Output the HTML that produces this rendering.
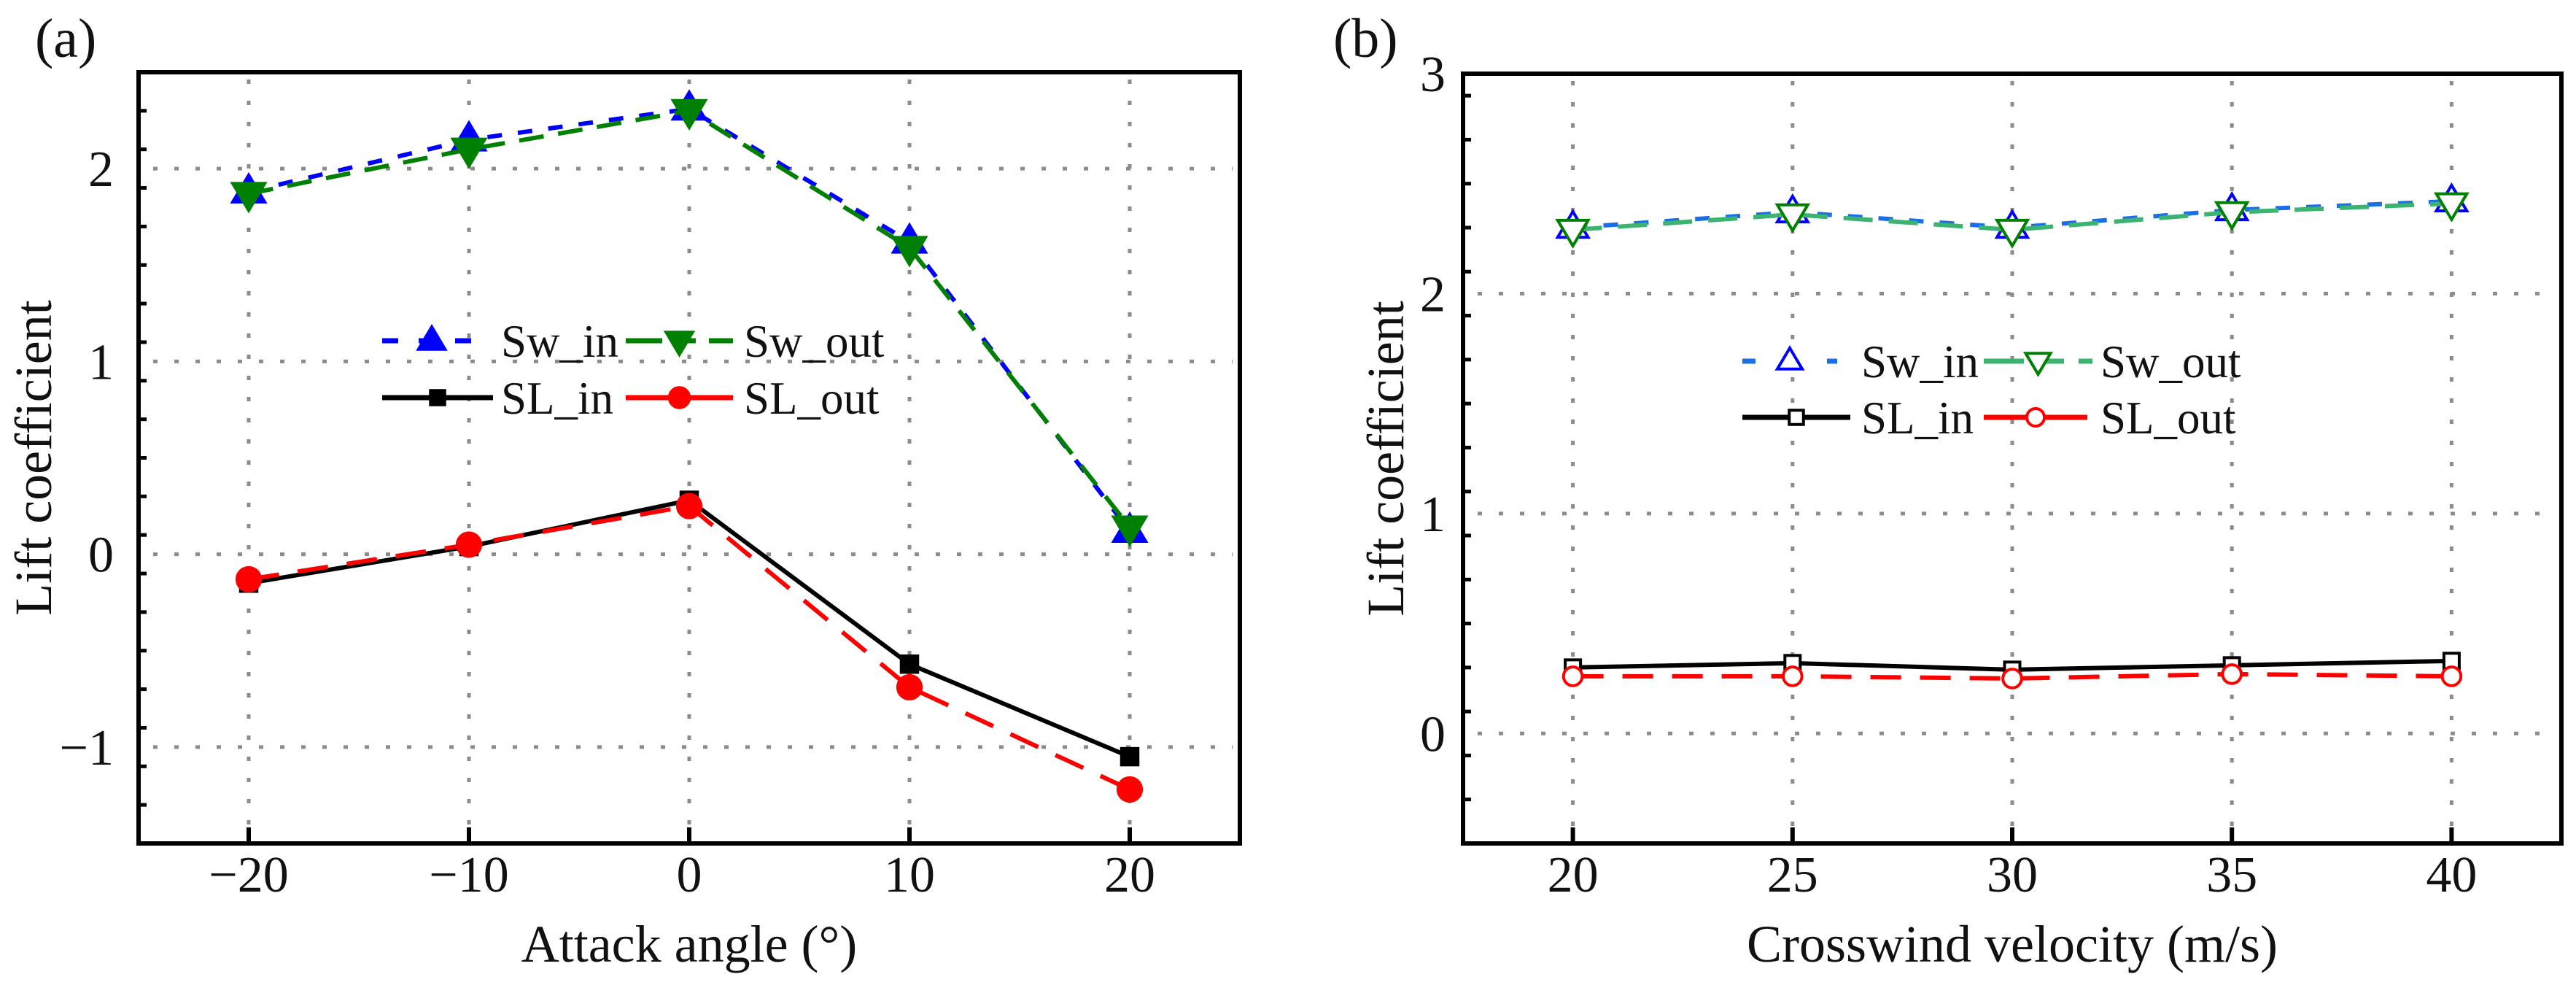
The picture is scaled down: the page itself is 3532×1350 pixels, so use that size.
<!DOCTYPE html>
<html><head><meta charset="utf-8">
<style>
html,body{margin:0;padding:0;background:#fff;}
svg{display:block;font-family:"Liberation Serif","DejaVu Serif",serif;}
</style></head>
<body>
<svg id="fig" width="3532" height="1350" viewBox="0 0 3532 1350" xmlns="http://www.w3.org/2000/svg"></svg>
<script>
// Panel (a) data
const aCategories = [-20, -10, 0, 10, 20];
const aSwIn  = [1.88, 2.15, 2.31, 1.62, 0.12];
const aSwOut = [1.87, 2.10, 2.30, 1.59, 0.14];
const aSLIn  = [-0.15, 0.04, 0.28, -0.57, -1.05];
const aSLOut = [-0.13, 0.05, 0.25, -0.69, -1.22];
const aXTicks = [-20, -10, 0, 10, 20];
const aXTickLabels = ["\u221220", "\u221210", "0", "10", "20"];
const aYTicks = [-1, 0, 1, 2];
const aYTickLabels = ["\u22121", "0", "1", "2"];
// Panel (b) data
const bCategories = [20, 25, 30, 35, 40];
const bSwIn  = [2.30, 2.37, 2.30, 2.38, 2.42];
const bSwOut = [2.29, 2.36, 2.29, 2.37, 2.41];
const bSLIn  = [0.30, 0.32, 0.29, 0.31, 0.33];
const bSLOut = [0.26, 0.26, 0.25, 0.27, 0.26];
const bXTicks = [20, 25, 30, 35, 40];
const bXTickLabels = ["20", "25", "30", "35", "40"];
const bYTicks = [0, 1, 2, 3];
const bYTickLabels = ["0", "1", "2", "3"];

const NS = "http://www.w3.org/2000/svg";
const svg = document.getElementById("fig");
function mk(tag, attrs, parent) {
  const e = document.createElementNS(NS, tag);
  for (const k in attrs) e.setAttribute(k, attrs[k]);
  (parent || svg).appendChild(e);
  return e;
}

function marker(g, type, x, y, color, filled, s) {
  let e;
  const fill = filled ? color : "#fff";
  const sw = filled ? 1 : 4;
  if (type === "up") {
    e = mk("polygon", {points: `${x},${y - s} ${x - s * 0.95},${y + s * 0.6} ${x + s * 0.95},${y + s * 0.6}`, fill: fill, stroke: color, "stroke-width": sw}, g);
  } else if (type === "down") {
    e = mk("polygon", {points: `${x},${y + s} ${x - s * 0.95},${y - s * 0.6} ${x + s * 0.95},${y - s * 0.6}`, fill: fill, stroke: color, "stroke-width": sw}, g);
  } else if (type === "square") {
    e = mk("rect", {x: x - s * 0.75, y: y - s * 0.75, width: s * 1.5, height: s * 1.5, fill: fill, stroke: color, "stroke-width": sw}, g);
  } else {
    e = mk("circle", {cx: x, cy: y, r: s * 0.8, fill: fill, stroke: color, "stroke-width": sw}, g);
  }
  return e;
}

function panel(cfg) {
  const g = mk("g", {});
  
  
  const X = v => cfg.L + (v - cfg.xmin) / (cfg.xmax - cfg.xmin) * (cfg.R - cfg.L);
  const Y = v => cfg.B - (v - cfg.ymin) / (cfg.ymax - cfg.ymin) * (cfg.B - cfg.T);

  // grid
  const grid = mk("g", {stroke: "#8c8c8c", "stroke-width": 5, "stroke-dasharray": "6 23", fill: "none"}, g);
  
  
  cfg.xticks.forEach(v => mk("line", {x1: X(v), x2: X(v), y1: cfg.T + 10, y2: cfg.B - 20}, grid));
  cfg.yticks.forEach(v => { if (v < cfg.ymax) mk("line", {x1: cfg.L + 20, x2: cfg.R - 10, y1: Y(v), y2: Y(v)}, grid); });

  // series
  cfg.series.forEach(s => {
    const sg = mk("g", {}, g);
    
    
    const pts = cfg.cats.map((c, i) => X(c) + "," + Y(s.vals[i])).join(" ");
    const pl = mk("polyline", {points: pts, fill: "none", stroke: s.line, "stroke-width": 6, "stroke-dasharray": s.dash || "none", "stroke-linejoin": "round"}, sg);
    
    
    cfg.cats.forEach((c, i) => {
      const m = marker(sg, s.marker, X(c), Y(s.vals[i]), s.color, s.filled, s.size);
      
      
    });
  });

  // frame
  const fr = mk("rect", {x: cfg.L, y: cfg.T, width: cfg.R - cfg.L, height: cfg.B - cfg.T, fill: "none", stroke: "#000", "stroke-width": 6}, g);
  
  

  // ticks
  const tk = mk("g", {stroke: "#000", "stroke-width": 6}, g);
  
  
  cfg.xticks.forEach(v => mk("line", {x1: X(v), x2: X(v), y1: cfg.B, y2: cfg.B - 22}, tk));
  for (let v = cfg.ymin; v <= cfg.ymax + 1e-9; v += 0.2) {
    const isMaj = Math.abs(v - Math.round(v)) < 1e-6;
    mk("line", {x1: cfg.L, x2: cfg.L + (isMaj ? 22 : 11), y1: Y(v), y2: Y(v), "stroke-width": isMaj ? 6 : 5}, tk);
  }

  // tick labels
  cfg.xticks.forEach((v, i) => {
    const t = mk("text", {x: X(v), y: cfg.B + 66, "font-size": 70, "text-anchor": "middle", fill: "#111"}, g);
    t.textContent = cfg.xlabels[i];
    
    
  });
  cfg.yticks.forEach((v, i) => {
    const t = mk("text", {x: cfg.L - cfg.ylabGap, y: Y(v) + 24, "font-size": 70, "text-anchor": "end", fill: "#111"}, g);
    t.textContent = cfg.ylabels[i];
    
    
  });

  // titles
  const xt = mk("text", {x: (cfg.L + cfg.R) / 2, y: 1318, "font-size": 72, "text-anchor": "middle", fill: "#111"}, g);
  xt.textContent = cfg.xtitle;
  
  
  const yt = mk("text", {x: 0, y: 0, "font-size": 72, "text-anchor": "middle", fill: "#111", transform: `translate(${cfg.ytitleX},${(cfg.T + cfg.B) / 2}) rotate(-90)`}, g);
  yt.textContent = "Lift coefficient";
  
  
  const pl = mk("text", {x: cfg.labelX, y: 78, "font-size": 76, fill: "#111"}, g);
  pl.textContent = cfg.panelLabel;
  
  

  // legend
  const lg = mk("g", {}, g);
  
  
  cfg.legend.forEach(e => {
    const eg = mk("g", {}, lg);
    
    
    mk("line", {x1: e.x1, x2: e.x2, y1: e.y, y2: e.y, stroke: e.line, "stroke-width": 7, "stroke-dasharray": e.dash || "none"}, eg);
    marker(eg, e.marker, (e.x1 + e.x2) / 2, e.y, e.color, e.filled, e.size);
    const t = mk("text", {x: e.tx, y: e.y + 22, "font-size": 63, fill: "#111"}, eg);
    t.textContent = e.label;
  });
}

panel({
  name: "panel-a-attack-angle", L: 190, R: 1700, T: 99, B: 1156,
  xmin: -25, xmax: 25, ymin: -1.5, ymax: 2.5,
  cats: aCategories, xticks: aXTicks, xlabels: aXTickLabels, yticks: aYTicks, ylabels: aYTickLabels,
  ylabGap: 34, ytitleX: 70, labelX: 48, panelLabel: "(a)", xtitle: "Attack angle (\u00B0)",
  series: [
    {name: "series-sl-in", vals: aSLIn, line: "#000", color: "#000", marker: "square", filled: true, size: 17},
    {name: "series-sl-out", vals: aSLOut, line: "#ff0000", color: "#ff0000", marker: "circle", filled: true, size: 22, dash: "42 26"},
    {name: "series-sw-in", vals: aSwIn, line: "#0000ff", color: "#0000ff", marker: "up", filled: true, size: 26, dash: "20 22"},
    {name: "series-sw-out", vals: aSwOut, line: "#008000", color: "#008000", marker: "down", filled: true, size: 26, dash: "34 20"}
  ],
  legend: [
    {label: "Sw_in", x1: 524, x2: 660, y: 467, tx: 687, line: "#0000ff", color: "#0000ff", marker: "up", filled: true, size: 22, dash: "22 28"},
    {label: "Sw_out", x1: 858, x2: 1005, y: 467, tx: 1020, line: "#008000", color: "#008000", marker: "down", filled: true, size: 22, dash: "50 18 28 18"},
    {label: "SL_in", x1: 524, x2: 676, y: 545, tx: 687, line: "#000", color: "#000", marker: "square", filled: true, size: 15},
    {label: "SL_out", x1: 858, x2: 1005, y: 545, tx: 1020, line: "#ff0000", color: "#ff0000", marker: "circle", filled: true, size: 19}
  ]
});

panel({
  name: "panel-b-crosswind-velocity", L: 2006, R: 3512, T: 101, B: 1156,
  xmin: 17.5, xmax: 42.5, ymin: -0.5, ymax: 3,
  cats: bCategories, xticks: bXTicks, xlabels: bXTickLabels, yticks: bYTicks, ylabels: bYTickLabels,
  ylabGap: 24, ytitleX: 1924, labelX: 1828, panelLabel: "(b)", xtitle: "Crosswind velocity (m/s)",
  series: [
    {name: "series-sl-in", vals: bSLIn, line: "#000", color: "#000", marker: "square", filled: false, size: 14},
    {name: "series-sl-out", vals: bSLOut, line: "#ff0000", color: "#ff0000", marker: "circle", filled: false, size: 16, dash: "42 26"},
    {name: "series-sw-in", vals: bSwIn, line: "#1a6fe6", color: "#0000ff", marker: "up", filled: false, size: 22, dash: "20 22"},
    {name: "series-sw-out", vals: bSwOut, line: "#3cb371", color: "#008000", marker: "down", filled: false, size: 22, dash: "40 22"}
  ],
  legend: [
    {label: "Sw_in", x1: 2389, x2: 2519, y: 495, tx: 2552, line: "#1a6fe6", color: "#0000ff", marker: "up", filled: false, size: 18, dash: "18 40"},
    {label: "Sw_out", x1: 2720, x2: 2869, y: 495, tx: 2880, line: "#3cb371", color: "#008000", marker: "down", filled: false, size: 18, dash: "55 20 35 20"},
    {label: "SL_in", x1: 2389, x2: 2537, y: 572, tx: 2552, line: "#000", color: "#000", marker: "square", filled: false, size: 13},
    {label: "SL_out", x1: 2720, x2: 2862, y: 572, tx: 2880, line: "#ff0000", color: "#ff0000", marker: "circle", filled: false, size: 15}
  ]
});
</script>
</body></html>
